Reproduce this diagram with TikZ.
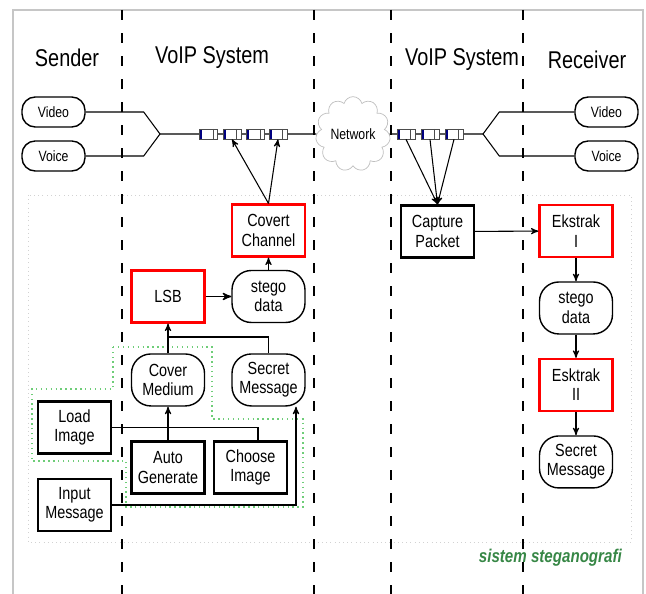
\documentclass[tikz,border=0pt]{standalone}
\usepackage{fontspec}
\setmainfont{Liberation Sans}[FakeStretch=0.82]
\usetikzlibrary{arrows, positioning, shapes.symbols}

\definecolor{regiongreen}{RGB}{110,205,120}
\definecolor{labelgreen}{RGB}{55,135,70}

\begin{document}
\begin{tikzpicture}
  [
  x = 0.02cm, y = -0.02cm,
  node distance = 1.54cm, on grid, >=stealth',
  every node/.style={font=\fontsize{10}{11}\selectfont, align=center},
  lane/.style={dash pattern=on 5.7pt off 7.4pt, thick},
  title/.style={font=\fontsize{13.8}{15}\selectfont},
  media/.style={draw, thick, rounded corners=7.5pt, minimum width=1.26cm, minimum height=0.6cm, font=\fontsize{8.5}{10}\selectfont},
  red box/.style={draw=red, line width=1.2pt, minimum width=1.46cm, minimum height=1.04cm},
  black box/.style={draw, line width=1.4pt, minimum width=1.46cm, minimum height=1.04cm},
  data box/.style={draw, thick, rounded corners=11pt, minimum width=1.46cm, minimum height=1.04cm},
  packet/.style={draw=black!70, fill=white, minimum width=0.36cm, minimum height=0.2cm, inner sep=0pt,
    path picture={
      \fill[blue!50!black] (path picture bounding box.south west) rectangle ([xshift=1.5pt]path picture bounding box.north west);
      \draw[black!70] ([xshift=-2.5pt]path picture bounding box.north east) -- ([xshift=-2.5pt]path picture bounding box.south east);}},
  link/.style={semithick}
  ]
  \useasboundingbox (0,0) rectangle (646,594);

  % frame, work area and lanes
  \draw[gray!45, line width=0.8pt] (13,594) |- (643,10) -- (643,594);
  \draw[gray!35, dotted] (28,195) rectangle (631,542);
  \foreach \x in {122,314,391,523}
    \draw[lane] (\x,10) -- (\x,594);

  % titles
  \node[title] (sender)    at (67,58)  {Sender};
  \node[title] (voipleft)  at (212,58) {VoIP System};
  \node[title] (voipright) at (462,60) {VoIP System};
  \node[title] (receiver)  at (587,60) {Receiver};

  % media streams
  \node[media] (lvideo) at (53.5,112)  {Video};
  \node[media] (lvoice) [below=0.88cm of lvideo] {Voice};
  \node[media] (rvideo) at (606.5,112) {Video};
  \node[media] (rvoice) [below=0.88cm of rvideo] {Voice};
  \node[cloud, draw=gray!50, cloud puffs=11, aspect=1, inner sep=0pt,
        minimum width=1.16cm, minimum height=1.2cm, font=\fontsize{8.5}{10}\selectfont] (network) at (353,134) {Network};

  \coordinate (lfork) at (160,134);
  \coordinate (rfork) at (483,134);
  \draw[link] (lvideo.east) -- ++(58,0) -- (lfork);
  \draw[link] (lvoice.east) -- ++(58,0) -- (lfork);
  \draw[link] (rvideo.west) -- ++(-75,0) -- (rfork);
  \draw[link] (rvoice.west) -- ++(-75,0) -- (rfork);
  \draw[link] (lfork) -- (network.west);
  \draw[link] (network.east) -- (rfork);

  \foreach \x [count=\i] in {208.5,232,255.5,278}
    \node[packet] (p\i) at (\x,134) {};
  \foreach \x [count=\i] in {406,430,454}
    \node[packet] (q\i) at (\x,134) {};

  % sender side
  \draw[regiongreen, dotted, thick] (113,347) -- (212,347) -- (212,419) -- (303,419) -- (303,507)
    -- (126,507) -- (126,461) -- (32,461) -- (32,389) -- (113,389) -- cycle;

  \node[red box]  (covert)  at (268.5,230.5)           {Covert\\Channel};
  \node[data box] (stego1)  [below=1.32cm of covert]   {stego\\data};
  \node[red box]  (lsb)     [left=2.01cm of stego1]    {LSB};
  \node[data box] (secret1) [below=1.67cm of stego1]   {Secret\\Message};
  \node[data box] (cover)   [left=2.01cm of secret1]   {Cover\\Medium};
  \node[black box] (autogen) [below=1.75cm of cover]   {Auto\\Generate};
  \node[black box] (choose)  [right=1.65cm of autogen] {Choose\\Image};
  \node[black box] (load)    at (74.5,427.5)           {Load\\Image};
  \node[black box] (input)   [below=1.55cm of load]    {Input\\Message};

  \coordinate (join) at (168,337);
  \draw[->, thick] (lsb) -- (stego1);
  \draw[->, link] (stego1) -- (covert);
  \draw[->, link] (cover) -- (lsb);
  \draw[link] (secret1.north) |- (join);
  \draw[link] (load.east) -| ([xshift=0.15cm]choose.north);
  \draw[->, link] (autogen) -- (cover);
  \draw[->, link] (input.east) -| ([xshift=0.55cm]secret1.south);
  \draw[->, link] (covert.north) -- (p2.south);
  \draw[->, link] (covert.north) -- (p4.south);

  % receiver side
  \node[black box] (capture)  at (437.5,231.5)            {Capture\\Packet};
  \node[red box]   (ekstrak1) at (576,231)                {Ekstrak\\I};
  \node[data box]  (stego2)   [below=of ekstrak1]         {stego\\data};
  \node[red box]   (ekstrak2) [below=of stego2]           {Esktrak\\II};
  \node[data box]  (secret2)  [below=of ekstrak2]         {Secret\\Message};

  \foreach \i in {1,2,3}
    \draw[->, link] (q\i.south) -- (capture.north);
  \draw[->, link] (capture) -- (ekstrak1);
  \draw[->, link] (ekstrak1) -- (stego2);
  \draw[->, link] (stego2) -- (ekstrak2);
  \draw[->, link] (ekstrak2) -- (secret2);

  \node[anchor=east, text=labelgreen, font=\fontsize{10.5}{12}\bfseries\itshape] (caption) at (628,558) {sistem steganografi};
\end{tikzpicture}
\end{document}
